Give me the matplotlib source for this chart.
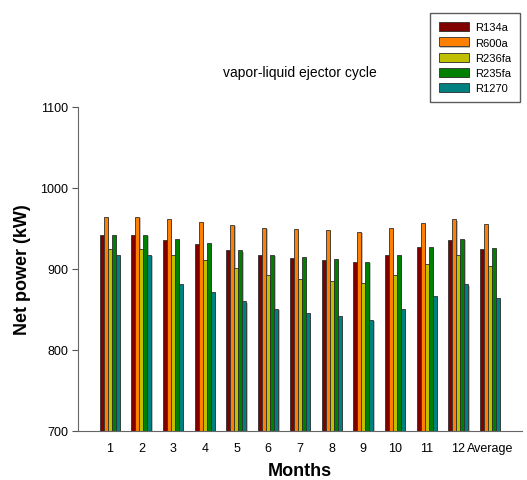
import numpy as np
import matplotlib
matplotlib.use("Agg")
import matplotlib.pyplot as plt
import matplotlib.patheffects as pe

plt.rcParams['font.family'] = ['Liberation Sans', 'DejaVu Sans']

# data
months = ['1', '2', '3', '4', '5', '6', '7', '8', '9', '10', '11', '12', 'Average']
r134a = [942, 942, 936, 931, 923, 917, 913, 911, 908, 917, 927, 936, 925]
r600a = [964, 964, 961, 958, 954, 951, 949, 948, 946, 951, 957, 961, 955]
r236fa = [925, 925, 917, 911, 901, 893, 888, 885, 882, 893, 906, 917, 904]
r235fa = [942, 942, 937, 932, 923, 917, 914, 912, 909, 917, 927, 937, 926]
r1270 = [917, 917, 881, 872, 860, 851, 846, 842, 837, 851, 867, 881, 864]

series = [('R134a', r134a, '#800000'),
          ('R600a', r600a, '#ff8000'),
          ('R236fa', r236fa, '#c0c000'),
          ('R235fa', r235fa, '#008000'),
          ('R1270', r1270, '#008080')]

fig = plt.figure(figsize=(5.27, 4.81), dpi=100)
ax = fig.add_axes([0.148, 0.102, 0.842, 0.674])

x = np.arange(1, len(months) + 1)
w = 0.126
shadow = [pe.SimplePatchShadow(offset=(1, -1), shadow_rgbFace='#b0b0b0', alpha=0.8), pe.Normal()]
for i, (name, vals, col) in enumerate(series):
    ax.bar(x + (i - 2) * w, np.array(vals) - 700, width=w, bottom=700, color=col,
           edgecolor='#303030', linewidth=0.6, label=name, path_effects=shadow)

ax.set_xlim(0, 14)
ax.set_ylim(700, 1100)
ax.set_yticks([700, 800, 900, 1000, 1100])
ax.set_xticks(x)
ax.set_xticklabels(months)
ax.tick_params(axis='x', length=0, labelsize=9, pad=8)
ax.tick_params(axis='y', direction='out', length=4, labelsize=9, color='#555555', pad=3)
for s in ['top', 'right']:
    ax.spines[s].set_visible(False)
for s in ['left', 'bottom']:
    ax.spines[s].set_color('#666666')

ax.set_title('vapor-liquid ejector cycle', fontsize=10, pad=22)
ax.set_xlabel('Months', fontsize=13, fontweight='bold', va='center')
ax.set_ylabel('Net power (kW)', fontsize=13, fontweight='bold', va='center')
ax.xaxis.set_label_coords(0.5, -0.123)
ax.yaxis.set_label_coords(-0.124, 0.5)

fig.legend(loc='upper right', bbox_to_anchor=(0.998, 0.982), fontsize=8, frameon=True,
           fancybox=False, edgecolor='#333333', handlelength=2.7, handleheight=0.85,
           labelspacing=0.45, borderpad=0.8, handletextpad=0.6)

plt.savefig('out.png', dpi=100)
